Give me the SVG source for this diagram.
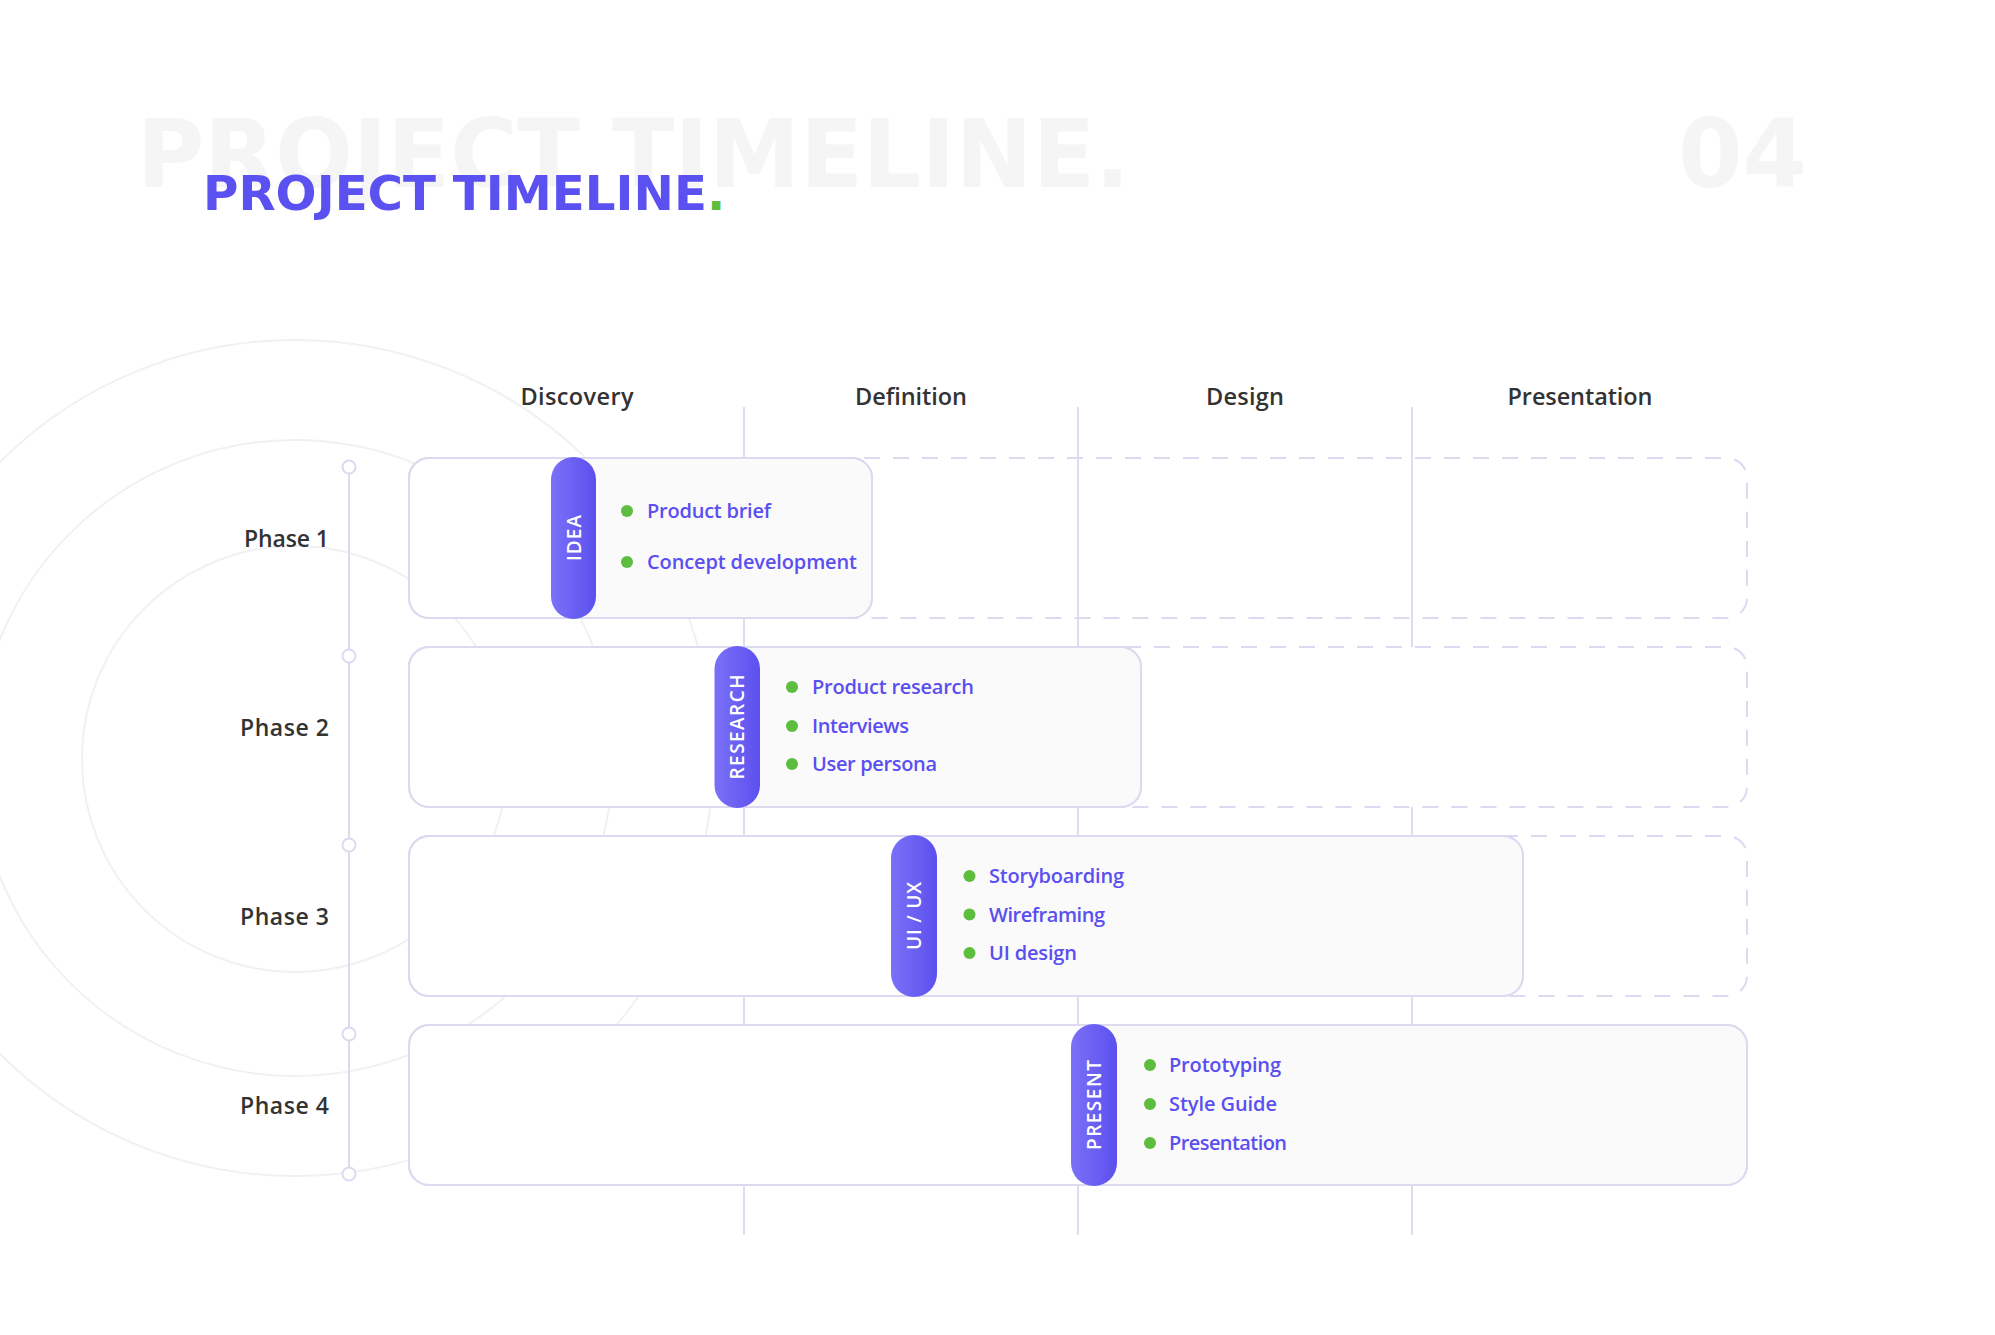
<svg xmlns="http://www.w3.org/2000/svg" width="1995" height="1335" viewBox="0 0 1995 1335">
  <defs>
    <linearGradient id="pillGrad" x1="0" y1="0" x2="1" y2="0">
      <stop offset="0" stop-color="#7b70f8"/>
      <stop offset="1" stop-color="#5c50ee"/>
    </linearGradient>
    <style>
      .ghost { font-family: "DejaVu Sans", "Liberation Sans", sans-serif; font-weight: 700; font-size: 94px; fill: #f5f5f6; }
      .title { font-family: "DejaVu Sans", "Liberation Sans", sans-serif; font-weight: 700; font-size: 48px; fill: #5b50f0; }
      .head { font-family: "Open Sans", "Liberation Sans", sans-serif; font-weight: 600; font-size: 23.5px; fill: #333333; text-anchor: middle; }
      .phase { font-family: "Open Sans", "Liberation Sans", sans-serif; font-weight: 600; font-size: 23px; fill: #333333; text-anchor: end; }
      .item { font-family: "Open Sans", "Liberation Sans", sans-serif; font-weight: 600; font-size: 20px; fill: #5a4ff0; }
      .pilltxt { font-family: "Open Sans", "Liberation Sans", sans-serif; font-weight: 600; font-size: 19px; fill: #ffffff; text-anchor: middle; }
      .bg-ring { fill: none; stroke: #f1f1f4; stroke-width: 2; }
      .grid { stroke: #dedcf1; stroke-width: 2; }
      .dash { stroke: #dcd9f1; stroke-width: 2; stroke-dasharray: 16 13; }
      .box { fill: #ffffff; stroke: #dcd9f1; stroke-width: 2; }
      .boxline { fill: none; stroke: #dcd9f1; stroke-width: 2; }
      .grey { fill: #fafafa; }
      .pill { fill: url(#pillGrad); }
      .dot { fill: #5dbd3e; }
      .tl { stroke: #dcd9f1; stroke-width: 2; }
      .tlc { fill: #ffffff; stroke: #dcd9f1; stroke-width: 2; }
    </style>
  </defs>

  <rect x="0" y="0" width="1995" height="1335" fill="#ffffff"/>

  <g id="background-rings">
    <circle class="bg-ring" cx="295" cy="758" r="418"/>
    <circle class="bg-ring" cx="295" cy="758" r="318"/>
    <circle class="bg-ring" cx="295" cy="759" r="213"/>
  </g>

  <g id="header">
    <text class="ghost" x="137" y="187" textLength="993" lengthAdjust="spacingAndGlyphs">PROJECT TIMELINE.</text>
    <text class="ghost" x="1678" y="187" textLength="129" lengthAdjust="spacingAndGlyphs">04</text>
    <text class="title" x="203" y="210"><tspan textLength="504" lengthAdjust="spacingAndGlyphs">PROJECT TIMELINE</tspan><tspan fill="#5dbd3e">.</tspan></text>
  </g>

  <g id="column-headers">
    <text class="head" x="577" y="405" textLength="113" lengthAdjust="spacing">Discovery</text>
    <text class="head" x="911" y="405" textLength="112" lengthAdjust="spacing">Definition</text>
    <text class="head" x="1245" y="405" textLength="78" lengthAdjust="spacing">Design</text>
    <text class="head" x="1580" y="405" textLength="145" lengthAdjust="spacing">Presentation</text>
  </g>

  <g id="connectors">
    <line class="grid" x1="744" y1="407" x2="744" y2="1235"/>
    <line class="grid" x1="1078" y1="407" x2="1078" y2="1235"/>
    <line class="grid" x1="1412" y1="407" x2="1412" y2="1235"/>
    <line class="tl" x1="349" y1="474" x2="349" y2="1167"/>
    <circle class="tlc" cx="349" cy="467" r="6.5"/>
    <circle class="tlc" cx="349" cy="656" r="6.5"/>
    <circle class="tlc" cx="349" cy="845" r="6.5"/>
    <circle class="tlc" cx="349" cy="1034" r="6.5"/>
    <circle class="tlc" cx="349" cy="1174" r="6.5"/>
  </g>

  <g id="phase-1">
    <rect class="dash" x="409" y="458" width="1338" height="160" rx="20" fill="none"/>
    <rect class="box" x="409" y="458" width="463" height="160" rx="20"/>
    <path class="grey" d="M573.5 459 H852 A19 19 0 0 1 871 478 V598 A19 19 0 0 1 852 617 H573.5 Z"/>
    <rect class="boxline" x="409" y="458" width="463" height="160" rx="20"/>
    <rect class="pill" x="551" y="457" width="45" height="162" rx="22.5"/>
    <text class="pilltxt" x="573.5" y="545" transform="rotate(-90 573.5 538)" textLength="46" lengthAdjust="spacing">IDEA</text>
    <text class="phase" x="329" y="547" textLength="85" lengthAdjust="spacing">Phase 1</text>
    <circle class="dot" cx="627" cy="511" r="6"/>
    <text class="item" x="647" y="518" textLength="124" lengthAdjust="spacing">Product brief</text>
    <circle class="dot" cx="627" cy="562" r="6"/>
    <text class="item" x="647" y="569" textLength="210" lengthAdjust="spacing">Concept development</text>
  </g>

  <g id="phase-2">
    <rect class="dash" x="409" y="647" width="1338" height="160" rx="20" fill="#ffffff"/>
    <rect class="box" x="409" y="647" width="732" height="160" rx="20"/>
    <path class="grey" d="M737 648 H1121 A19 19 0 0 1 1140 667 V787 A19 19 0 0 1 1121 806 H737 Z"/>
    <rect class="boxline" x="409" y="647" width="732" height="160" rx="20"/>
    <rect class="pill" x="714.5" y="646" width="45.5" height="162" rx="22.75"/>
    <text class="pilltxt" x="737" y="734" transform="rotate(-90 737 727)" textLength="105" lengthAdjust="spacing">RESEARCH</text>
    <text class="phase" x="329" y="736" textLength="89" lengthAdjust="spacing">Phase 2</text>
    <circle class="dot" cx="792" cy="687" r="6"/>
    <text class="item" x="812" y="694" textLength="162" lengthAdjust="spacing">Product research</text>
    <circle class="dot" cx="792" cy="726" r="6"/>
    <text class="item" x="812" y="733" textLength="97" lengthAdjust="spacing">Interviews</text>
    <circle class="dot" cx="792" cy="764" r="6"/>
    <text class="item" x="812" y="771" textLength="125" lengthAdjust="spacing">User persona</text>
  </g>

  <g id="phase-3">
    <rect class="dash" x="409" y="836" width="1338" height="160" rx="20" fill="#ffffff"/>
    <rect class="box" x="409" y="836" width="1114" height="160" rx="20"/>
    <path class="grey" d="M914 837 H1503 A19 19 0 0 1 1522 856 V976 A19 19 0 0 1 1503 995 H914 Z"/>
    <rect class="boxline" x="409" y="836" width="1114" height="160" rx="20"/>
    <rect class="pill" x="891" y="835" width="46" height="162" rx="23"/>
    <text class="pilltxt" x="914" y="923" transform="rotate(-90 914 916)" textLength="68" lengthAdjust="spacing">UI / UX</text>
    <text class="phase" x="329" y="925" textLength="89" lengthAdjust="spacing">Phase 3</text>
    <circle class="dot" cx="969.5" cy="876" r="6"/>
    <text class="item" x="989" y="883" textLength="135" lengthAdjust="spacing">Storyboarding</text>
    <circle class="dot" cx="969.5" cy="914.5" r="6"/>
    <text class="item" x="989" y="921.5" textLength="116" lengthAdjust="spacing">Wireframing</text>
    <circle class="dot" cx="969.5" cy="953" r="6"/>
    <text class="item" x="989" y="960" textLength="88" lengthAdjust="spacing">UI design</text>
  </g>

  <g id="phase-4">
    <rect class="box" x="409" y="1025" width="1338" height="160" rx="20"/>
    <path class="grey" d="M1094 1026 H1727 A19 19 0 0 1 1746 1045 V1165 A19 19 0 0 1 1727 1184 H1094 Z"/>
    <rect class="boxline" x="409" y="1025" width="1338" height="160" rx="20"/>
    <rect class="pill" x="1071" y="1024" width="46" height="162" rx="23"/>
    <text class="pilltxt" x="1094" y="1112" transform="rotate(-90 1094 1105)" textLength="90" lengthAdjust="spacing">PRESENT</text>
    <text class="phase" x="329" y="1114" textLength="89" lengthAdjust="spacing">Phase 4</text>
    <circle class="dot" cx="1150" cy="1065" r="6"/>
    <text class="item" x="1169" y="1072" textLength="112" lengthAdjust="spacing">Prototyping</text>
    <circle class="dot" cx="1150" cy="1104" r="6"/>
    <text class="item" x="1169" y="1111" textLength="108" lengthAdjust="spacing">Style Guide</text>
    <circle class="dot" cx="1150" cy="1143" r="6"/>
    <text class="item" x="1169" y="1150" textLength="118" lengthAdjust="spacing">Presentation</text>
  </g>
</svg>
